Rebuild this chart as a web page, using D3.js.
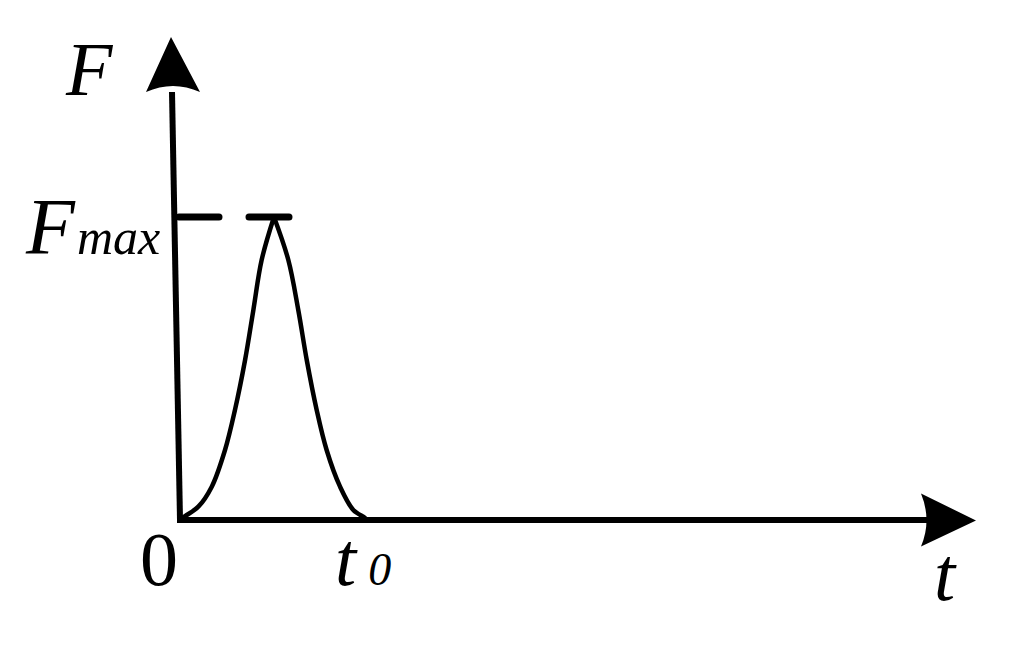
<html>
<head>
<meta charset="utf-8">
<script src="https://cdn.jsdelivr.net/npm/d3@7"></script>
</head>
<body>
<svg></svg>
<script>
// pulse shape, t in units of t0, F in units of Fmax
var tVals = [0, 0.033, 0.105, 0.178, 0.25, 0.304, 0.359, 0.404, 0.449, 0.516,
             0.594, 0.648, 0.694, 0.748, 0.802, 0.875, 0.947, 1.01, 1.02];
var fVals = [0, 0.013, 0.044, 0.110, 0.231, 0.363, 0.528, 0.693, 0.858, 1,
             0.858, 0.693, 0.528, 0.363, 0.231, 0.110, 0.033, 0.007, 0];
var tMax = 4.33;   // where the t arrow ends
var fMax = 1.594;  // where the F arrow ends

var width = 1015;
var height = 651;
d3.select("body").style("margin", "0");
var svg = d3.select("svg")
            .attr("width", width)
            .attr("height", height)
            .style("display", "block");

var x = d3.scaleLinear().domain([0, tMax]).range([179, 976]);
var y = d3.scaleLinear().domain([0, fMax]).range([520, 37]);

var pts = tVals.map((t, i) => ({t: t, f: fVals[i]}));
var peak = d3.maxIndex(pts, d => d.f);

// axes
var axisGp = svg.append("g").classed("axes", true);
var lean = 7;  // the F axis leans a little to the left at the top

axisGp.append("line")
  .attr("x1", x(0) + 1).attr("y1", y(0))
  .attr("x2", x(0) - lean).attr("y2", y(0) - 428)
  .attr("stroke", "#000").attr("stroke-width", 6);

axisGp.append("line")
  .attr("x1", x(0) - 2).attr("y1", y(0))
  .attr("x2", x(tMax) - 48).attr("y2", y(0))
  .attr("stroke", "#000").attr("stroke-width", 6);

// arrow heads with a curved back
var vx = x(0) - lean - 1, vy = y(fMax);
axisGp.append("path")
  .attr("d", `M${vx},${vy} L${vx + 29},${vy + 55} Q${vx + 2},${vy + 43} ${vx - 25},${vy + 55} Z`)
  .attr("fill", "#000");

var hx = x(tMax), hy = y(0) + 0.5;
axisGp.append("path")
  .attr("d", `M${hx},${hy} L${hx - 55},${hy + 26} Q${hx - 44},${hy} ${hx - 55},${hy - 27} Z`)
  .attr("fill", "#000");

// dashed Fmax level
svg.append("line")
  .attr("x1", x(0)).attr("y1", y(1))
  .attr("x2", x(tVals[peak]) + 24).attr("y2", y(1))
  .attr("stroke", "#000").attr("stroke-width", 7)
  .attr("stroke-linecap", "round")
  .attr("stroke-dasharray", "40 30");

// pulse, drawn as two halves so the top stays pointed
var line = d3.line()
  .x(d => x(d.t))
  .y(d => y(d.f))
  .curve(d3.curveCatmullRom.alpha(0.5));

[pts.slice(0, peak + 1), pts.slice(peak)].forEach(half => {
  svg.append("path")
    .attr("d", line(half))
    .attr("fill", "none")
    .attr("stroke", "#000")
    .attr("stroke-width", 4.5);
});

// labels: set at half size and scaled up x2
function label(px, py, size, italic) {
  return svg.append("g")
    .attr("transform", `translate(${px},${py}) scale(2)`)
    .append("text")
    .style("font-family", "'Liberation Serif'")
    .attr("font-size", size / 2)
    .attr("font-style", italic ? "italic" : "normal");
}

label(66, 95, 76, true).text("F");

var fm = label(26, 254, 80, true);
fm.append("tspan").text("F");
fm.append("tspan").attr("font-size", 25).attr("dx", 1).text("max");

label(x(0) - 20, 585, 76, false)
  .attr("text-anchor", "middle")
  .text("0");

var t0 = label(x(1) - 28, 585, 76, true);
t0.append("tspan").text("t");
t0.append("tspan").attr("font-size", 23).attr("dx", 6).text("0");

label(934, 600, 76, true).text("t");
</script>
</body>
</html>
